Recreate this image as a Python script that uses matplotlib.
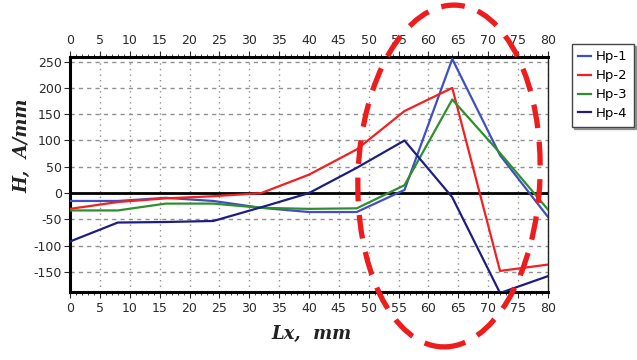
import matplotlib
matplotlib.use("Agg")
import matplotlib.pyplot as plt
from matplotlib.patches import Ellipse
from matplotlib.ticker import MultipleLocator

plt.rcParams["axes.unicode_minus"] = False

# -----------------------------
# data (nodes every 8 mm)
# -----------------------------
lx = [0, 8, 16, 24, 32, 40, 48, 56, 64, 72, 80]

hp1 = [-15, -15, -9, -15, -28, -36, -36, 6, 255, 72, -45]
hp2 = [-30, -17, -10, -6, 0, 35, 83, 156, 200, -148, -136]
hp3 = [-33, -33, -20, -20, -28, -30, -29, 15, 178, 76, -31]
hp4 = [-92, -56, -55, -53, -27, 0, 48, 100, -8, -190, -158]

series_names = ["Hp-1", "Hp-2", "Hp-3", "Hp-4"]
series_colors = ["#3f4fc4", "#f22020", "#2f8f2f", "#1e1e82"]

x_ticks = list(range(0, 81, 5))
y_ticks = [-150, -100, -50, 0, 50, 100, 150, 200, 250]

# -----------------------------
# figure
# -----------------------------
fig = plt.figure(figsize=(6.37, 3.6), dpi=100)
ax = fig.add_axes([0.110, 0.189, 0.750, 0.653])

for ys, name, c in zip([hp1, hp2, hp3, hp4], series_names, series_colors):
    ax.plot(lx, ys, color=c, lw=1.6, label=name, zorder=3)

ax.axhline(0, color="black", lw=2.0, zorder=2)

ax.set_xlim(0, 80)
ax.set_ylim(-188, 259)
ax.set_xticks(x_ticks)
ax.set_yticks(y_ticks)
ax.xaxis.set_minor_locator(MultipleLocator(1))

ax.grid(True, axis="y", color="#909090", ls=(0, (3, 3)), lw=1.0)
ax.grid(True, axis="x", color="#909090", ls=(0, (1, 3)), lw=1.0)

ax.tick_params(axis="x", which="both", top=True, labeltop=True,
               direction="out", labelsize=9, colors="#2a2a2a", pad=3)
ax.tick_params(axis="x", which="major", length=4)
ax.tick_params(axis="x", which="minor", length=2)
ax.tick_params(axis="y", labelsize=9, colors="#2a2a2a", length=4, pad=2)

for side in ["left", "top", "bottom"]:
    ax.spines[side].set_linewidth(2.2)
    ax.spines[side].set_color("black")
ax.spines["right"].set_linewidth(1.0)
ax.spines["right"].set_color("#222222")

ax.set_xlabel("Lx,  mm", family="DejaVu Serif", style="italic",
              weight="bold", fontsize=13, color="#222222")
ax.xaxis.set_label_coords(0.506, -0.14)
ax.set_ylabel("H,  A/mm", family="DejaVu Serif", style="italic",
              weight="bold", fontsize=13, color="#222222")
ax.yaxis.set_label_coords(-0.08, 0.62)

leg = fig.legend(loc="upper left", bbox_to_anchor=(0.887, 0.897),
                 fontsize=9.5, handlelength=1.0, handletextpad=0.3,
                 labelspacing=0.45, borderpad=0.5, fancybox=False,
                 shadow=True, edgecolor="#444444")
leg.get_frame().set_linewidth(1.0)

# red dashed ellipse marking the peak region
ell = Ellipse((4.49, 1.84), 1.82, 3.42, angle=-2.3,
              transform=fig.dpi_scale_trans, fill=False,
              edgecolor="#ee1c1c", lw=3.8, ls=(0, (4.5, 2.6)), zorder=10)
fig.patches.append(ell)

fig.savefig("out.png", dpi=100)
